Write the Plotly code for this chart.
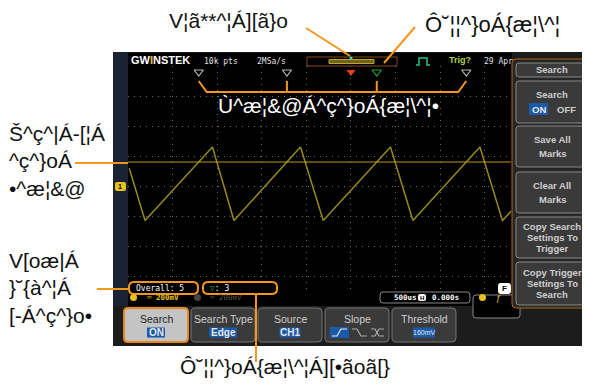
import numpy as np
import plotly.graph_objects as go

# ---------------- data ----------------
TIME_MS = [-2.486, -2.309, -1.553, -1.312, -0.566, -0.311, 0.443, 0.694, 1.446, 1.698, 1.80]
VOLT_MV = [118, -230, 260, -230, 260, -230, 260, -230, 260, -230, -165]
THRESHOLD_MV = 160
TRIGGER_MS = 0.0
CURRENT_MARK = 2          # index of the current (green) search mark
TIME_DIV_MS = 0.5
VOLT_DIV_MV = 200
X_RANGE = [-2.5, 1.794]
Y_RANGE = [-800, 800]

LABEL_TRIGGER = "V¦ã**^¦Á][ã}o"
LABEL_CURRENT = "Ô˘¦¦^}oÁ{æ¦\\^¦"
LABEL_EVENTS = "Ù^æ¦&@Á^ç^}oÁ{æ¦\\^¦•"
LABEL_LEVEL = ["Š^ç^|Á-[¦Á", "^ç^}oÁ", "•^æ¦&@"]
LABEL_TOTAL = ["V[oæ|Á", "}˘{à^¦Á", "[-Á^ç^}o•"]
LABEL_POSITION = "Ô˘¦¦^}oÁ{æ¦\\^¦Á][•ãoã[}"

MENU_TITLE = "Search"
MENU_ITEMS = [["Search", "ON|OFF"], ["Save All", "Marks"], ["Clear All", "Marks"],
              ["Copy Search", "Settings To", "Trigger"], ["Copy Trigger", "Settings To", "Search"]]
SOFTKEYS = [("Search", "ON"), ("Search Type", "Edge"), ("Source", "CH1"), ("Slope", ""), ("Threshold", "160mV")]
OVERALL_COUNT = 5
CURRENT_COUNT = 3

# ---------------- layout helpers ----------------
OFF = 8                     # default page body margin
W, H = 590 - OFF, 386 - OFF
ORANGE = "#f5961e"
shapes, annos = [], []

def px(x): return (x - OFF) / W
def py(y): return 1 - (y - OFF) / H

def rect(x0, y0, x1, y1, fill=None, line=None, lw=1, layer="above"):
    shapes.append(dict(type="rect", xref="paper", yref="paper", x0=px(x0), x1=px(x1), y0=py(y1), y1=py(y0),
                       fillcolor=fill or "rgba(0,0,0,0)", line=dict(color=line or "rgba(0,0,0,0)", width=lw if line else 0),
                       layer=layer))

def rrect(x0, y0, x1, y1, r=3, fill=None, line=None, lw=1, layer="above"):
    def p(x, y): return f"{px(x):.5f},{py(y):.5f}"
    path = (f"M{p(x0+r,y0)} L{p(x1-r,y0)} Q{p(x1,y0)} {p(x1,y0+r)} L{p(x1,y1-r)} Q{p(x1,y1)} {p(x1-r,y1)} "
            f"L{p(x0+r,y1)} Q{p(x0,y1)} {p(x0,y1-r)} L{p(x0,y0+r)} Q{p(x0,y0)} {p(x0+r,y0)} Z")
    shapes.append(dict(type="path", xref="paper", yref="paper", path=path,
                       fillcolor=fill or "rgba(0,0,0,0)", line=dict(color=line or "rgba(0,0,0,0)", width=lw if line else 0),
                       layer=layer))

def circ(x0, y0, x1, y1, fill):
    shapes.append(dict(type="circle", xref="paper", yref="paper", x0=px(x0), x1=px(x1), y0=py(y1), y1=py(y0),
                       fillcolor=fill, line=dict(width=0), layer="above"))

def pline(pts, color=ORANGE, lw=2, layer="above"):
    path = "M" + " L".join(f"{px(x):.5f},{py(y):.5f}" for x, y in pts)
    shapes.append(dict(type="path", xref="paper", yref="paper", path=path,
                       line=dict(color=color, width=lw), layer=layer))

def txt(x, y, s, size=10, color="#ffffff", family="Liberation Sans", xa="center", ya="middle", bold=False, align=None):
    if bold:
        s = f"<b>{s}</b>"
    annos.append(dict(x=px(x), y=py(y), xref="paper", yref="paper", text=s, showarrow=False,
                      xanchor=xa, yanchor=ya, align=align or ("left" if xa == "left" else "center"),
                      font=dict(size=size, color=color, family=family)))

# ---------------- scope frame ----------------
rect(113, 52, 591, 346, fill="#1c1c1c", layer="below")
rect(113, 52, 128, 306, fill="#1b2333", layer="below")      # left strip
rect(128, 53, 512, 306, fill="#000000", layer="below")      # screen
rrect(115, 182, 126, 191, r=2, fill="#e8c21a")
txt(120, 186.5, "1", size=7, color="#000000", bold=True)

# header
txt(129, 60, "GW<span style='color:#f0c020'>I</span>NSTEK", size=11, color="#ffffff", xa="left", bold=True)
txt(202, 61, "10k pts", size=8, color="#e0e0e0", family="DejaVu Sans Mono", xa="left")
txt(255, 61, "2MSa/s", size=8, color="#e0e0e0", family="DejaVu Sans Mono", xa="left")
rect(307, 57, 397, 66, fill="#000000", line="#8a4a12", lw=1)
rect(329, 59.5, 374, 63.5, fill="#6f6418", line="#b9a43a", lw=1)
circ(349.5, 56.5, 352.5, 59.5, "#2ad4e0")
pline([(416, 65), (419, 65), (419, 58), (427, 58), (427, 65), (430, 65)], color="#2bc48a", lw=1.5)
txt(447, 60.5, "Trig?", size=9, color="#b4d23a", xa="left", bold=True)
txt(482, 61, "29 Apr", size=8, color="#e0e0e0", family="DejaVu Sans Mono", xa="left")

# ---------------- waveform ----------------
t = np.array(TIME_MS)
v = np.array(VOLT_MV)
cross = []
for i in range(len(t) - 1):
    if v[i] < THRESHOLD_MV <= v[i + 1]:
        cross.append(t[i] + (THRESHOLD_MV - v[i]) / (v[i + 1] - v[i]) * (t[i + 1] - t[i]))
mark_y = Y_RANGE[1] - 0.2 * VOLT_DIV_MV

fig = go.Figure()
fig.add_trace(go.Scatter(x=TIME_MS, y=VOLT_MV, mode="lines", line=dict(color="#958a18", width=1.5),
                         hoverinfo="skip"))
fig.add_trace(go.Scatter(x=X_RANGE, y=[THRESHOLD_MV, THRESHOLD_MV], mode="lines",
                         line=dict(color="#c0961c", width=1), hoverinfo="skip"))
cols = ["#1fa83a" if i == CURRENT_MARK else "#b8b8b8" for i in range(len(cross))]
fig.add_trace(go.Scatter(x=cross, y=[mark_y] * len(cross), mode="markers", cliponaxis=False,
                         marker=dict(symbol="triangle-down-open", size=8, color=cols, line=dict(width=1.2, color=cols)),
                         hoverinfo="skip"))
fig.add_trace(go.Scatter(x=[TRIGGER_MS], y=[mark_y], mode="markers", cliponaxis=False,
                         marker=dict(symbol="triangle-down", size=8, color="#e8401c"), hoverinfo="skip"))

# bracket joining the search marks
dx = 8 / 44.6 * TIME_DIV_MS
def xl(xs, ys):
    path = "M" + " L".join(f"{x:.5f},{py(y):.5f}" for x, y in zip(xs, ys))
    shapes.append(dict(type="path", xref="x", yref="paper", path=path, line=dict(color=ORANGE, width=2), layer="above"))
xl([cross[0], cross[0] + dx, cross[-1] - dx, cross[-1]], [81, 92, 92, 81])
for c in cross[1:-1]:
    xl([c, c], [81, 92])

# ---------------- status rows ----------------
rect(128, 292, 512, 306, fill="#000000")
rrect(129, 282, 198, 294, r=5, fill="#000000", line=ORANGE, lw=2)
txt(134, 288, f"Overall: {OVERALL_COUNT}", size=8, color="#ffffff", family="DejaVu Sans Mono", xa="left")
rrect(203, 282, 277, 294, r=5, fill="#000000", line=ORANGE, lw=2)
txt(208, 288, f"<span style='color:#22b040'>▽</span>: {CURRENT_COUNT}", size=8, color="#ffffff",
    family="DejaVu Sans Mono", xa="left")
rrect(498, 283, 511, 294, r=3, fill="#ffffff")
txt(504.5, 288.5, "F", size=8, color="#000000", bold=True)

circ(130, 294, 137, 301, "#e8c21a")
txt(144, 297.5, "═ 200mV", size=7.5, color="#e8c21a", family="DejaVu Sans Mono", xa="left", bold=True)
circ(194, 294, 201, 301, "#444444")
txt(207, 297.5, "═ 200mV", size=7.5, color="#555555", family="DejaVu Sans Mono", xa="left")
rrect(380, 292, 470, 303, r=3, fill="#000000", line="#888888", lw=1)
txt(392, 297.5, "500us", size=7.5, color="#ffffff", family="DejaVu Sans Mono", xa="left", bold=True)
rrect(418, 294, 426, 301, r=2, fill="#ffffff")
txt(422, 297.5, "H", size=6, color="#000000", bold=True)
txt(430, 297.5, "0.000s", size=7.5, color="#ffffff", family="DejaVu Sans Mono", xa="left", bold=True)
rrect(473, 295, 520, 318, r=3, fill="#000000", line="#888888", lw=1)
circ(479, 294, 486, 301, "#e8c21a")
txt(494, 297.5, "ƒ", size=9, color="#e8c21a", xa="left")

# ---------------- soft keys ----------------
kx = [124, 191, 258, 325, 392]
for i, (k, val) in enumerate(SOFTKEYS):
    x0, x1 = kx[i], kx[i] + 64
    cx = (x0 + x1) / 2
    if i == 0:
        rrect(x0, 308, x1, 342, r=4, fill="#c4c4c4", line="#e8861a", lw=2)
        txt(cx, 318.5, k, size=10.5, color="#222222")
    else:
        rrect(x0, 308, x1, 342, r=4, fill="#3a3a3a", line="#777777", lw=1)
        txt(cx, 318.5, k, size=10.5, color="#d0d0d0")
    if val:
        wv = 18 if val == "ON" else (7 * len(val) if val != "160mV" else 22)
        rect(cx - wv / 2, 327.5, cx + wv / 2, 337.5, fill="#1a5aa8")
        txt(cx, 332.5, val, size=10 if val != "160mV" else 7, color="#e8e8e8", bold=(val != "160mV"))
rect(330, 327, 349, 338, fill="#1a5aa8")
pline([(332, 336), (337, 336), (341, 329), (347, 329)], color="#e8e8e8", lw=1.2)
pline([(352, 329), (357, 329), (361, 336), (367, 336)], color="#aaaaaa", lw=1.2)
pline([(371, 329), (375, 329), (379, 336), (384, 336)], color="#aaaaaa", lw=1.2)
pline([(371, 336), (375, 336), (379, 329), (384, 329)], color="#aaaaaa", lw=1.2)

# ---------------- right menu ----------------
rrect(512, 59, 592, 308, r=4, fill="#262626", line="#b0651c", lw=1)
rrect(516, 63, 588, 77, r=3, fill="#3a3a3a", line="#8a8a8a", lw=1)
txt(552, 70, MENU_TITLE, size=9.5, color="#cfcfcf", bold=True)
boxes = [(81, 123), (126, 167), (172, 213), (217, 258), (262, 305)]
for (y0, y1), lines in zip(boxes, MENU_ITEMS):
    rrect(516, y0, 588, y1, r=3, fill="#3a3a3a", line="#8a8a8a", lw=1)
    n = len(lines)
    step = 14 if n == 2 else 11.3
    cy = (y0 + y1) / 2
    for j, s in enumerate(lines):
        yy = cy + (j - (n - 1) / 2) * step
        if "|" in s:
            on, off = s.split("|")
            rect(529, yy - 6, 548, yy + 6, fill="#1a5aa8")
            txt(538.5, yy, on, size=9.5, color="#e8e8e8", bold=True)
            txt(566, yy, off, size=9.5, color="#cfcfcf", bold=True)
        else:
            txt(552, yy, s, size=9.5, color="#cfcfcf", bold=True)

# ---------------- callouts ----------------
AF = "Liberation Sans"
txt(167, 20, LABEL_TRIGGER, size=21, color="#111111", family=AF, xa="left")
pline([(306, 28), (350, 56)])
txt(423, 24, LABEL_CURRENT, size=22, color="#111111", family=AF, xa="left")
pline([(415, 27), (384, 63)])
txt(328, 105, LABEL_EVENTS, size=21, color="#ffffff", family=AF)
txt(7, 160.5, "<br>".join(LABEL_LEVEL), size=21, color="#111111", family=AF, xa="left")
pline([(75, 163), (128, 163)])
txt(7, 288, "<br>".join(LABEL_TOTAL), size=21, color="#111111", family=AF, xa="left")
pline([(97, 289), (129, 289)])
txt(285, 366, LABEL_POSITION, size=21, color="#111111", family=AF)
pline([(256, 294), (256, 362)])

# ---------------- axes ----------------
fig.update_layout(
    width=W, height=H, margin=dict(l=0, r=0, t=0, b=0),
    paper_bgcolor="#ffffff", plot_bgcolor="#000000", showlegend=False,
    shapes=shapes, annotations=annos,
    xaxis=dict(domain=[px(128), px(511)], range=X_RANGE, tick0=X_RANGE[0], dtick=TIME_DIV_MS,
               showgrid=True, gridcolor="#6a6a6a", griddash="1px,5px", gridwidth=1,
               zeroline=False, showticklabels=False, ticks="", fixedrange=True),
    yaxis=dict(domain=[py(306), py(66)], range=Y_RANGE, tick0=0, dtick=VOLT_DIV_MV,
               showgrid=True, gridcolor="#6a6a6a", griddash="1px,5px", gridwidth=1,
               zeroline=False, showticklabels=False, ticks="", fixedrange=True),
)
fig.write_html("out.html")
